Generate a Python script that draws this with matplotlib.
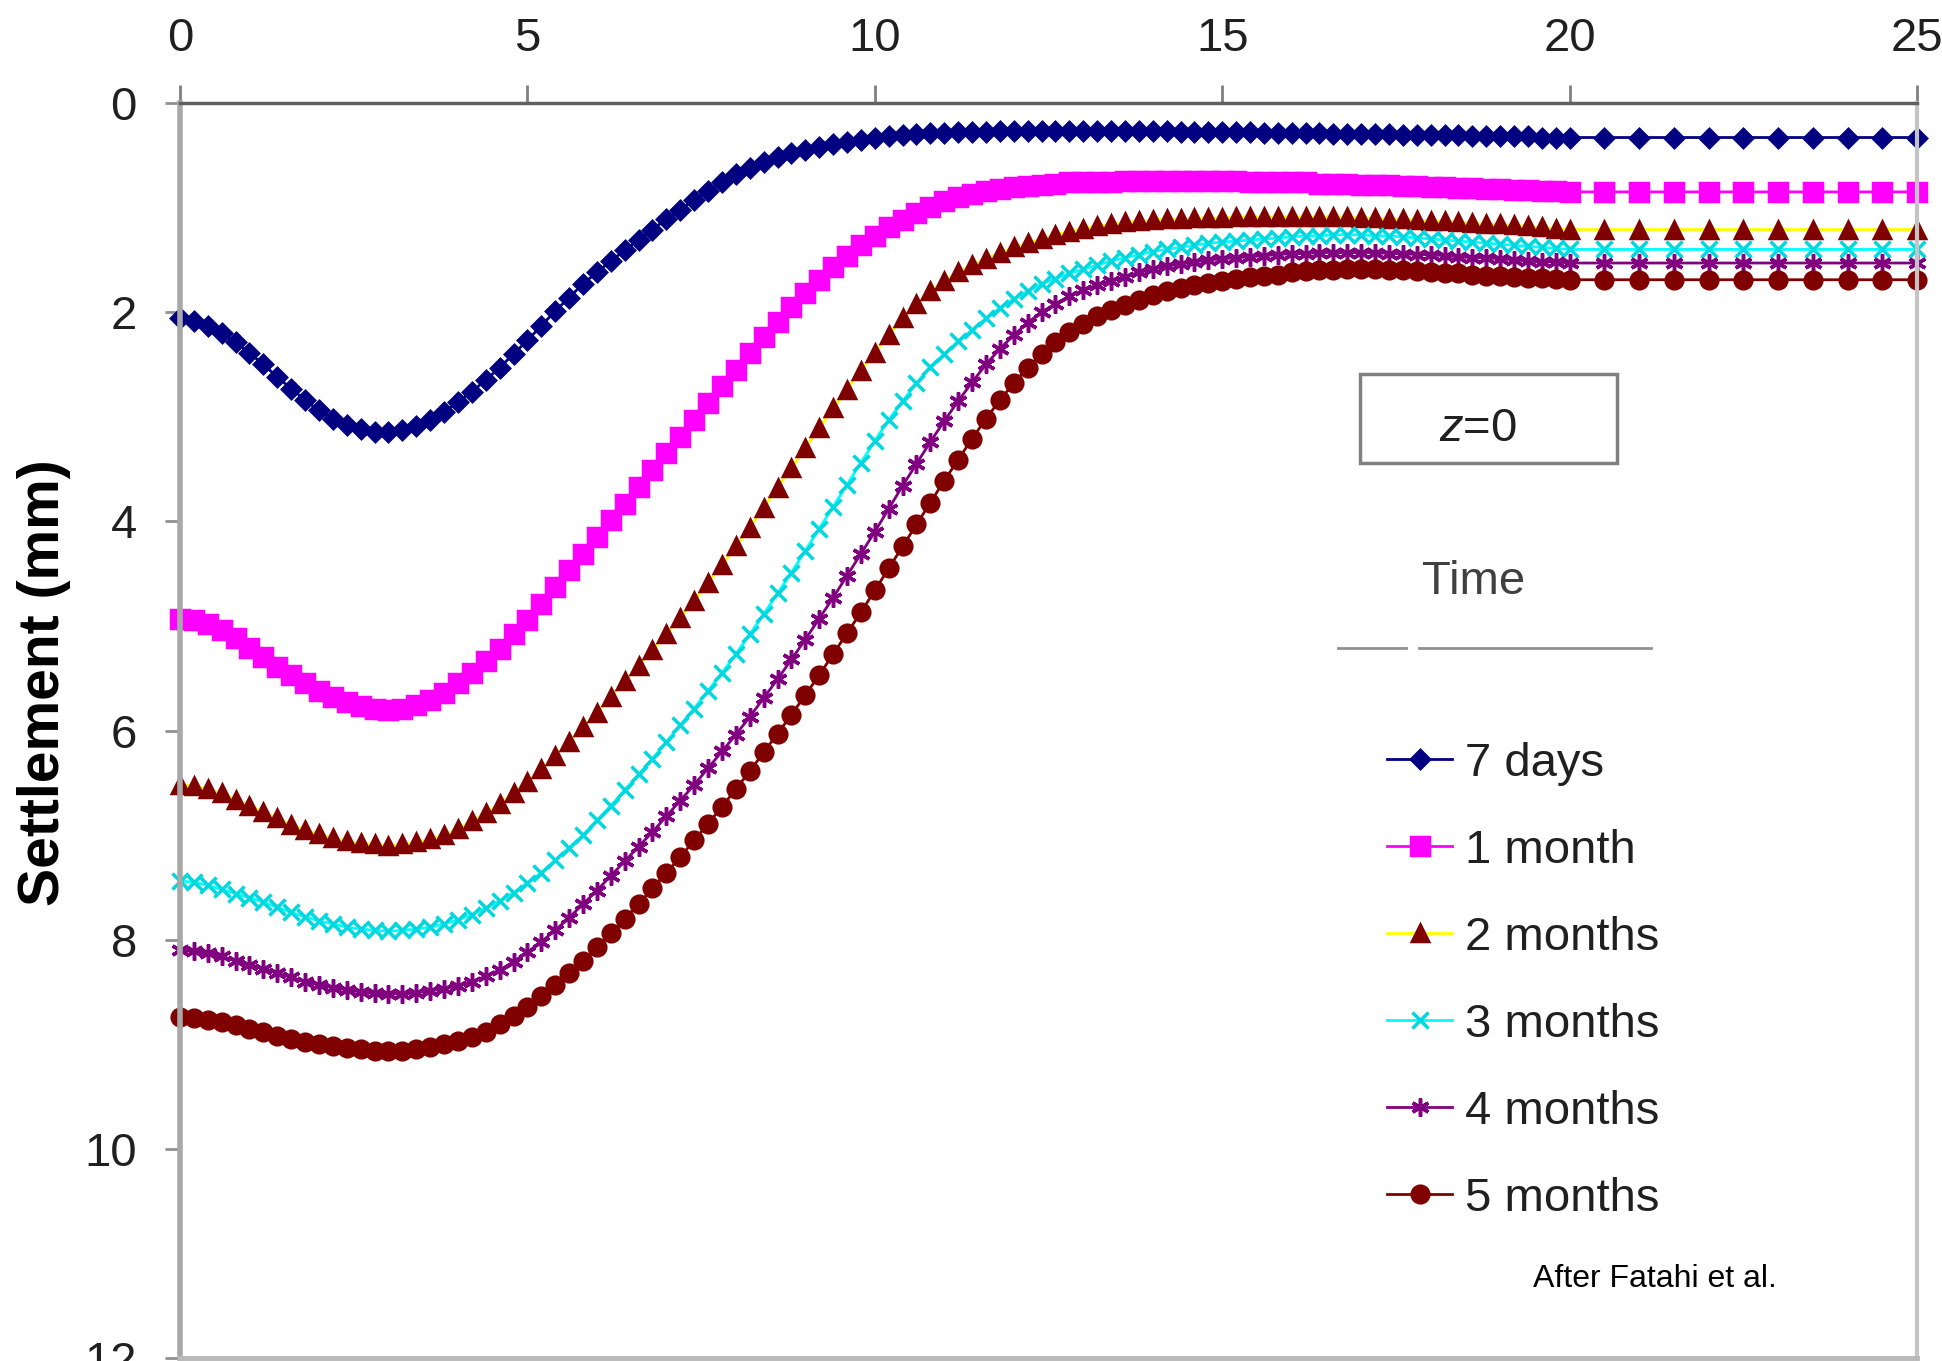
import numpy as np
import matplotlib
matplotlib.use("Agg")
import matplotlib.pyplot as plt
from matplotlib.lines import Line2D
from matplotlib.patches import Rectangle

plt.rcParams['font.family'] = ['Liberation Sans', 'DejaVu Sans']
plt.rcParams['mathtext.fontset'] = 'custom'
plt.rcParams['mathtext.rm'] = 'Liberation Sans'
plt.rcParams['mathtext.it'] = 'Liberation Sans:italic'

# distance (m): every 0.2 up to 20, then every 0.5 up to 25
dist = np.concatenate([np.arange(0, 20.1, 0.2), np.arange(20.5, 25.1, 0.5)])

labels = ['7 days', '1 month', '2 months', '3 months', '4 months', '5 months']

s_7d = [2.06, 2.08, 2.13, 2.20, 2.29, 2.39, 2.50, 2.62, 2.73, 2.84,
        2.94, 3.02, 3.08, 3.12, 3.15, 3.15, 3.13, 3.09, 3.03, 2.95,
        2.86, 2.76, 2.65, 2.53, 2.40, 2.27, 2.13, 1.99, 1.86, 1.73,
        1.62, 1.51, 1.41, 1.31, 1.21, 1.11, 1.02, 0.93, 0.84, 0.76,
        0.68, 0.62, 0.56, 0.52, 0.48, 0.45, 0.42, 0.39, 0.37, 0.35,
        0.33, 0.32, 0.31, 0.30, 0.29, 0.29, 0.28, 0.28, 0.28, 0.27,
        0.27, 0.27, 0.27, 0.27, 0.27, 0.27, 0.27, 0.27, 0.27, 0.27,
        0.27, 0.27, 0.28, 0.28, 0.28, 0.28, 0.28, 0.28, 0.29, 0.29,
        0.29, 0.29, 0.29, 0.30, 0.30, 0.30, 0.30, 0.30, 0.31, 0.31,
        0.31, 0.31, 0.31, 0.32, 0.32, 0.32, 0.32, 0.32, 0.33, 0.33,
        0.33,
        0.33, 0.33, 0.33, 0.33, 0.33, 0.33, 0.33, 0.33, 0.33, 0.33]

s_1m = [4.93, 4.94, 4.98, 5.04, 5.12, 5.21, 5.30, 5.39, 5.47, 5.55,
        5.62, 5.68, 5.73, 5.77, 5.79, 5.80, 5.79, 5.76, 5.71, 5.64,
        5.55, 5.45, 5.34, 5.22, 5.08, 4.94, 4.79, 4.63, 4.47, 4.31,
        4.15, 3.99, 3.83, 3.67, 3.51, 3.35, 3.19, 3.03, 2.87, 2.71,
        2.55, 2.39, 2.24, 2.09, 1.95, 1.82, 1.69, 1.57, 1.46, 1.36,
        1.27, 1.19, 1.12, 1.05, 0.99, 0.94, 0.90, 0.87, 0.84, 0.82,
        0.80, 0.79, 0.78, 0.77, 0.76, 0.76, 0.76, 0.76, 0.75, 0.75,
        0.75, 0.75, 0.75, 0.75, 0.75, 0.75, 0.75, 0.76, 0.76, 0.76,
        0.76, 0.76, 0.77, 0.77, 0.77, 0.78, 0.78, 0.78, 0.79, 0.79,
        0.80, 0.80, 0.81, 0.81, 0.82, 0.82, 0.83, 0.83, 0.84, 0.84,
        0.85,
        0.85, 0.85, 0.85, 0.85, 0.85, 0.85, 0.85, 0.85, 0.85, 0.85]

s_2m = [6.52, 6.53, 6.56, 6.60, 6.66, 6.72, 6.78, 6.84, 6.90, 6.95,
        6.99, 7.03, 7.06, 7.08, 7.09, 7.10, 7.09, 7.07, 7.04, 7.00,
        6.94, 6.87, 6.79, 6.70, 6.60, 6.49, 6.37, 6.24, 6.11, 5.97,
        5.83, 5.68, 5.53, 5.38, 5.23, 5.08, 4.92, 4.76, 4.59, 4.42,
        4.24, 4.06, 3.87, 3.68, 3.49, 3.30, 3.11, 2.92, 2.74, 2.56,
        2.39, 2.22, 2.06, 1.92, 1.80, 1.70, 1.62, 1.55, 1.49, 1.43,
        1.38, 1.34, 1.30, 1.26, 1.23, 1.20, 1.18, 1.16, 1.14, 1.13,
        1.12, 1.11, 1.11, 1.10, 1.10, 1.10, 1.09, 1.09, 1.09, 1.09,
        1.09, 1.09, 1.09, 1.09, 1.09, 1.10, 1.10, 1.11, 1.11, 1.12,
        1.13, 1.13, 1.14, 1.15, 1.16, 1.16, 1.17, 1.18, 1.19, 1.20,
        1.21,
        1.21, 1.21, 1.21, 1.21, 1.21, 1.21, 1.21, 1.21, 1.21, 1.21]

s_3m = [7.44, 7.45, 7.48, 7.52, 7.56, 7.60, 7.64, 7.69, 7.74, 7.78,
        7.82, 7.85, 7.88, 7.90, 7.91, 7.92, 7.91, 7.90, 7.88, 7.85,
        7.81, 7.76, 7.70, 7.63, 7.55, 7.46, 7.36, 7.24, 7.12, 7.00,
        6.86, 6.72, 6.57, 6.42, 6.27, 6.11, 5.95, 5.79, 5.62, 5.45,
        5.27, 5.08, 4.89, 4.69, 4.49, 4.28, 4.07, 3.86, 3.65, 3.44,
        3.23, 3.03, 2.85, 2.68, 2.52, 2.40, 2.28, 2.17, 2.06, 1.96,
        1.87, 1.80, 1.73, 1.68, 1.63, 1.59, 1.55, 1.51, 1.48, 1.45,
        1.42, 1.40, 1.38, 1.36, 1.34, 1.33, 1.32, 1.31, 1.30, 1.29,
        1.28, 1.27, 1.27, 1.26, 1.26, 1.26, 1.27, 1.27, 1.28, 1.29,
        1.30, 1.31, 1.32, 1.33, 1.34, 1.35, 1.36, 1.37, 1.38, 1.39,
        1.40,
        1.40, 1.40, 1.40, 1.40, 1.40, 1.40, 1.40, 1.40, 1.40, 1.40]

s_4m = [8.10, 8.11, 8.13, 8.16, 8.20, 8.24, 8.28, 8.32, 8.36, 8.40,
        8.43, 8.46, 8.48, 8.50, 8.51, 8.52, 8.52, 8.51, 8.49, 8.47,
        8.44, 8.40, 8.35, 8.29, 8.21, 8.12, 8.02, 7.91, 7.79, 7.66,
        7.53, 7.39, 7.25, 7.11, 6.97, 6.82, 6.67, 6.52, 6.36, 6.20,
        6.04, 5.87, 5.69, 5.51, 5.32, 5.13, 4.93, 4.73, 4.52, 4.31,
        4.10, 3.88, 3.66, 3.45, 3.24, 3.04, 2.85, 2.67, 2.50, 2.35,
        2.22, 2.10, 2.00, 1.92, 1.85, 1.79, 1.74, 1.70, 1.66, 1.62,
        1.59, 1.56, 1.54, 1.52, 1.50, 1.49, 1.48, 1.47, 1.46, 1.45,
        1.44, 1.44, 1.43, 1.43, 1.43, 1.43, 1.43, 1.44, 1.44, 1.45,
        1.45, 1.46, 1.47, 1.48, 1.48, 1.49, 1.50, 1.51, 1.52, 1.52,
        1.53,
        1.53, 1.53, 1.53, 1.53, 1.53, 1.53, 1.53, 1.53, 1.53, 1.53]

s_5m = [8.74, 8.75, 8.77, 8.79, 8.82, 8.85, 8.88, 8.92, 8.95, 8.98,
        9.00, 9.02, 9.04, 9.05, 9.06, 9.06, 9.06, 9.05, 9.03, 9.00,
        8.97, 8.93, 8.88, 8.81, 8.73, 8.64, 8.54, 8.43, 8.32, 8.20,
        8.07, 7.94, 7.80, 7.66, 7.51, 7.36, 7.21, 7.05, 6.89, 6.73,
        6.56, 6.39, 6.21, 6.03, 5.85, 5.66, 5.47, 5.27, 5.07, 4.87,
        4.66, 4.45, 4.24, 4.03, 3.82, 3.61, 3.41, 3.21, 3.02, 2.84,
        2.68, 2.53, 2.40, 2.29, 2.19, 2.11, 2.04, 1.98, 1.93, 1.88,
        1.84, 1.80, 1.77, 1.74, 1.72, 1.70, 1.68, 1.66, 1.65, 1.64,
        1.62, 1.61, 1.60, 1.60, 1.59, 1.59, 1.59, 1.60, 1.60, 1.61,
        1.62, 1.63, 1.63, 1.64, 1.65, 1.65, 1.66, 1.67, 1.67, 1.68,
        1.69,
        1.69, 1.69, 1.69, 1.69, 1.69, 1.69, 1.69, 1.69, 1.69, 1.69]

series = [s_7d, s_1m, s_2m, s_3m, s_4m, s_5m]
line_colors = ['#000080', '#ff00ff', '#ffff00', '#00ffff', '#800080', '#800000']
marker_colors = ['#000080', '#ff00ff', '#800000', '#00d8e0', '#800080', '#800000']
markers = ['D', 's', '^', 'x', (6, 2, 0), 'o']
msizes = [9.5, 13, 12, 12, 13, 12]

W, H = 1942, 1361
fig = plt.figure(figsize=(W / 100, H / 100), dpi=100)
ax = fig.add_axes([180 / W, 1 - 1358 / H, (1917 - 180) / W, (1358 - 103) / H])

for vals, lab, lc, mc, mk, ms in zip(series, labels, line_colors, marker_colors, markers, msizes):
    ax.plot(dist, vals, color=lc, lw=2, marker=mk, ms=ms, mfc=mc, mec=mc,
            mew=2.5, label=lab, clip_on=False)

ax.set_xlim(0, 25)
ax.set_ylim(12, 0)
ax.set_xticks(np.arange(0, 26, 5))
ax.set_yticks(np.arange(0, 13, 2))
ax.xaxis.tick_top()
ax.tick_params(axis='x', direction='out', length=13, width=2, color='#808080',
               labelsize=34, pad=17, labelcolor='#202020')
ax.tick_params(axis='y', direction='out', length=11, width=2, color='#909090',
               labelsize=34, pad=20, labelcolor='#202020')

ax.spines['top'].set_color('#606060')
ax.spines['top'].set_linewidth(2.5)
ax.spines['left'].set_color('#a8a8a8')
ax.spines['left'].set_linewidth(4)
ax.spines['right'].set_color('#c4c4c4')
ax.spines['right'].set_linewidth(3)
ax.spines['bottom'].set_color('#b8b8b8')
ax.spines['bottom'].set_linewidth(3.5)

ax.set_ylabel('Settlement (mm)', fontsize=41, fontweight='bold')
ax.yaxis.set_label_coords(-0.063, 0.538)

leg = ax.legend(loc='upper left', bbox_to_anchor=(1387 / W, 1 - 742 / H),
                bbox_transform=fig.transFigure, frameon=False, fontsize=34,
                numpoints=1, handlelength=1.38, handletextpad=0.28,
                labelspacing=0.91, borderpad=0, borderaxespad=0)
for t in leg.get_texts():
    t.set_color('#202020')

fig.text(1474 / W, 1 - 582 / H, 'Time', fontsize=34, color='#404040',
         ha='center', va='center')
fig.add_artist(Line2D([1338 / W, 1406 / W], [1 - 648 / H] * 2,
                      transform=fig.transFigure, color='#909090', lw=2))
fig.add_artist(Line2D([1419 / W, 1651 / W], [1 - 648 / H] * 2,
                      transform=fig.transFigure, color='#909090', lw=2))

fig.add_artist(Rectangle((1360 / W, 1 - 463 / H), 257 / W, 89 / H,
                         transform=fig.transFigure, fill=False,
                         edgecolor='#808080', lw=2.5))
fig.text(1478 / W, 1 - 429 / H, '$z$=0', fontsize=34, color='#202020',
         ha='center', va='center')

fig.text(1655 / W, 1 - 1279 / H, 'After Fatahi et al.', fontsize=23,
         color='black', ha='center', va='center')

fig.savefig('out.png', dpi=100)
